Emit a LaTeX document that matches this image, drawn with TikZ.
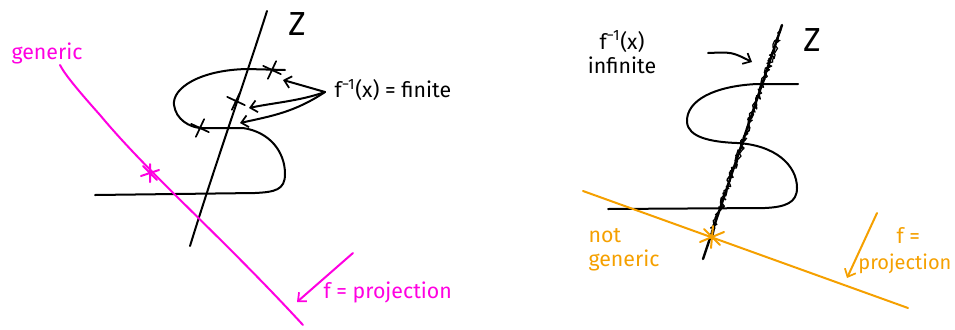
\documentclass[tikz,border=0pt]{standalone}
\usepackage{fontspec}
\setmainfont{Fira Sans}
\usetikzlibrary{arrows.meta,decorations.pathmorphing,shapes.misc}
\definecolor{mag}{RGB}{255,0,225}
\definecolor{orng}{RGB}{245,160,0}
\begin{document}
\begin{tikzpicture}[x=0.75pt,y=-0.75pt,line cap=round,line join=round,
  ink/.style={line width=1.5pt,black},
  magline/.style={line width=1.5pt,mag},
  orline/.style={line width=1.5pt,orng},
  barb/.style={-{Straight Barb[length=5pt,width=9pt,line width=1.3pt]}},
  lab/.style={font=\fontsize{16}{18}\selectfont,inner sep=1pt},
  zlab/.style={font=\fontsize{25}{27}\selectfont,inner sep=0pt},
  xmark/.style={cross out,draw,line width=1.3pt,minimum size=9pt,inner sep=0pt,rotate=20},
  scribble/.style={black,line width=0.9pt,decorate,decoration={random steps,segment length=1.2pt,amplitude=2.3pt}},
]
\useasboundingbox (0,0) rectangle (955,329);

% ---------------- left panel ----------------
\node[zlab] (zL) at (297,24) {Z};
\draw[ink] (190,246) .. controls (215,165) and (245,80) .. (267,11);
\draw[ink] (285,70) -- (247,69) .. controls (200,70) and (172,88) .. (174,105)
  .. controls (176,120) and (190,127) .. (200,128) -- (243,128)
  .. controls (270,132) and (285,152) .. (285,174)
  .. controls (285,190) and (275,192) .. (255,193) -- (95,195);
\node[xmark] (m1) at (272,70) {};
\node[xmark] (m2) at (236,101) {};
\node[xmark] (m3) at (200,128) {};

\node[lab,anchor=west] (finite) at (333,90) {f\textsuperscript{−1}(x) = finite};
\coordinate (fh) at (325,92);
\coordinate (t1) at (283,80);
\coordinate (t2) at (249,108);
\coordinate (t3) at (240,123);
\draw[ink,barb] (fh) .. controls (305,86) .. (t1);
\draw[ink,barb] (fh) .. controls (300,101) and (272,103) .. (t2);
\draw[ink,barb] (fh) .. controls (295,112) and (272,116) .. (t3);

\draw[magline] (60,65) .. controls (64,73) and (75,87) .. (100,115)
  .. controls (150,175) and (220,235) .. (303,325);
\draw[magline] (143,166) -- (157,180) (141,176) -- (159,170) (150,164) -- (150,182);
\node[lab,mag] (gen) at (47,53) {generic};
\coordinate (pa) at (353,253);
\coordinate (pb) at (297,302);
\draw[magline,barb] (pa) -- (pb);
\node[lab,mag,anchor=west] (projL) at (322,292) {f = projection};

% ---------------- right panel ----------------
\node[zlab] (zR) at (812,40) {Z};
\draw[ink,line width=1.8pt] (703,259) -- (782,25);
\draw[scribble] (711,236) -- (781,30);
\draw[scribble,decoration={random steps,segment length=1.7pt,amplitude=2pt}] (713,232) -- (779,34);
\draw[ink] (798,84) -- (757,84) .. controls (715,86) and (686,100) .. (687,122)
  .. controls (688,137) and (710,142) .. (737,143)
  .. controls (775,145) and (797,165) .. (797,188)
  .. controls (797,203) and (785,207) .. (765,208) -- (608,209);

\node[lab,align=center] (inf) at (622,52) {f\textsuperscript{−1}(x)\\infinite};
\coordinate (ia) at (708,53);
\coordinate (ib) at (752,62);
\draw[ink,barb] (ia) .. controls (732,52) .. (ib);

\draw[orline] (583,191) -- (908,308);
\draw[orline] (700,242) -- (724,232) (704,229) -- (720,245) (713,226) -- (711,248);
\node[lab,orng,align=left] (notgen) at (624,250) {not\\generic};
\coordinate (oa) at (877,213);
\coordinate (ob) at (847,278);
\draw[orline,barb] (oa) -- (ob);
\node[lab,orng,anchor=west] (feq) at (895,235) {f =};
\node[lab,orng,anchor=east,font=\fontsize{15}{17}\selectfont] (projR) at (953,264) {projection};
\end{tikzpicture}
\end{document}
